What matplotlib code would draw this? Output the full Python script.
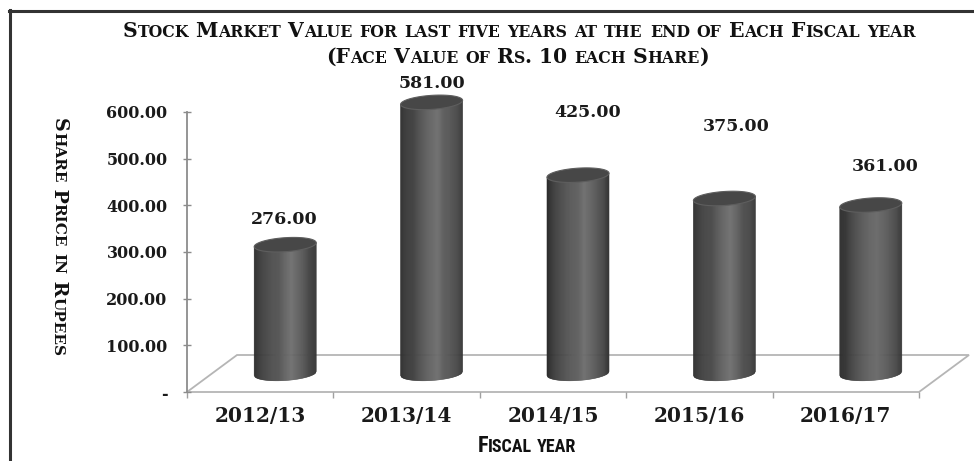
import matplotlib
matplotlib.use('Agg')
import matplotlib.pyplot as plt
import numpy as np
from matplotlib import font_manager
from matplotlib.font_manager import FontProperties
from matplotlib.collections import PolyCollection
from matplotlib.patches import Polygon
from matplotlib.lines import Line2D
from matplotlib.transforms import IdentityTransform

years = ['2012/13', '2013/14', '2014/15', '2015/16', '2016/17']
share_price = [276.00, 581.00, 425.00, 375.00, 361.00]
y_ticks = [0, 100, 200, 300, 400, 500, 600]
y_tick_labels = ['-', '100.00', '200.00', '300.00', '400.00', '500.00', '600.00']
title_lines = ['Stock Market Value for last five years at the end of Each Fiscal year',
               '(Face Value of Rs. 10 each Share)']
x_title = 'Fiscal year'
y_title = 'Share Price in Rupees'

# label nudges in pixels (dx, dy) from the top of each cylinder
label_nudge = [(-1, 25), (0, 19), (10, 63), (12, 72), (14, 39)]

available = {f.name for f in font_manager.fontManager.ttflist}


def pick(*names):
    for n in names:
        if n in available:
            return n
    return 'DejaVu Sans'


SERIF = pick('DejaVu Serif', 'Liberation Serif')
NARROW = pick('Liberation Sans Narrow', 'Roboto Condensed', 'Liberation Sans', 'DejaVu Sans')

W, H = 974, 461
fig = plt.figure(figsize=(W / 100, H / 100), dpi=100)
fig.patch.set_facecolor('white')

# plot area in pixels (front face of the 3d box)
px0, px1, py0, py1 = 187, 919, 392, 112
ax = fig.add_axes([px0 / W, (H - py0) / H, (px1 - px0) / W, (py0 - py1) / H])
ax.set_xlim(0, len(years))
ax.set_ylim(0, 600)
ax.patch.set_alpha(0)

xpx = (px1 - px0) / len(years)     # pixels per category
ypx = (py0 - py1) / 600.0          # pixels per rupee
depth_x = 50 / xpx
depth_y = 37 / ypx

# floor
floor = Polygon([(0, 0), (len(years), 0), (len(years) + depth_x, depth_y), (depth_x, depth_y)],
                closed=True, facecolor='white', edgecolor='#b5b5b5', lw=1.3,
                clip_on=False, zorder=1)
ax.add_patch(floor)

# cylinders
bw = 62 / xpx
ry = 7 / ypx
shear = (4 / ypx) / bw
n = 60
grad_pos = [-1.0, -0.75, 0.2, 0.85, 1.0]
grad_val = [0.17, 0.24, 0.43, 0.27, 0.21]
for i, v in enumerate(share_price):
    cx = i + 0.5 + depth_x / 2
    base = depth_y / 2
    top = v + depth_y / 2
    xs = np.linspace(cx - bw / 2, cx + bw / 2, n + 1)
    t = (xs - cx) / (bw / 2)
    half = ry * np.sqrt(np.clip(1 - t ** 2, 0, 1))
    tilt = shear * (xs - cx)
    bottom = base - half + tilt
    polys = []
    for k in range(n):
        polys.append([(xs[k], top + tilt[k]), (xs[k + 1], top + tilt[k + 1]),
                      (xs[k + 1], bottom[k + 1]), (xs[k], bottom[k])])
    mid = (t[:-1] + t[1:]) / 2
    g = np.interp(mid, grad_pos, grad_val)
    cols = [(c, c, c) for c in g]
    pc = PolyCollection(polys, facecolors=cols, edgecolors=cols, linewidths=0.4,
                        clip_on=False, zorder=3)
    ax.add_collection(pc)
    th = np.linspace(0, 2 * np.pi, 80)
    ex = cx + bw / 2 * np.cos(th)
    ey = top + ry * np.sin(th) + shear * (ex - cx)
    ax.add_patch(Polygon(np.column_stack([ex, ey]), closed=True, facecolor='#474747',
                         edgecolor='#5e5e5e', lw=0.8, clip_on=False, zorder=4))
    ax.annotate(f'{v:.2f}', xy=(cx, top), xytext=label_nudge[i], textcoords='offset pixels',
                ha='center', va='center', fontsize=12.5, fontweight='bold',
                family=SERIF, color='#1a1a1a', annotation_clip=False, zorder=5)

# axes styling
for s in ['top', 'right', 'bottom']:
    ax.spines[s].set_visible(False)
ax.spines['left'].set_color('#8c8c8c')
ax.spines['left'].set_linewidth(1.3)
ax.set_yticks(y_ticks)
ax.set_yticklabels(y_tick_labels)
ax.tick_params(axis='y', direction='inout', length=6, width=1, color='#8c8c8c', pad=11,
               labelsize=11.5)
for lab in ax.get_yticklabels():
    lab.set_fontfamily(SERIF)
    lab.set_fontweight('bold')
    lab.set_color('#1a1a1a')

ax.set_xticks(range(len(years) + 1))
ax.set_xticklabels([])
ax.set_xticks(np.arange(len(years)) + 0.5, minor=True)
ax.set_xticklabels(years, minor=True)
ax.tick_params(axis='x', which='major', direction='out', length=4.5, width=1, color='#a0a0a0')
ax.tick_params(axis='x', which='minor', length=0, pad=10, labelsize=14.5)
for lab in ax.get_xticklabels(minor=True):
    lab.set_fontfamily(SERIF)
    lab.set_fontweight('bold')
    lab.set_color('#1a1a1a')

renderer = fig.canvas.get_renderer()


def run_width(s, size, family):
    fp = FontProperties(family=family, weight='bold', size=size)
    w1 = renderer.get_text_width_height_descent(s + 'I', fp, ismath=False)[0]
    w0 = renderer.get_text_width_height_descent('I', fp, ismath=False)[0]
    return w1 - w0


def small_caps(x, y, text, big, small, family, rotation=0, color='#111111'):
    # x, y: centre of the baseline in pixels (origin bottom left)
    runs = []
    for ch in text:
        sz = small if ch.islower() else big
        if runs and runs[-1][1] == sz:
            runs[-1][0] += ch.upper()
        else:
            runs.append([ch.upper(), sz])
    widths = [run_width(r, sz, family) for r, sz in runs]
    total = sum(widths)
    ang = np.deg2rad(rotation)
    d = np.array([np.cos(ang), np.sin(ang)])
    pos = np.array([x, y]) - d * total / 2
    for (r, sz), w in zip(runs, widths):
        fig.text(pos[0], pos[1], r, fontsize=sz, fontweight='bold', family=family,
                 rotation=rotation, rotation_mode='anchor', ha='left', va='baseline',
                 color=color, transform=IdentityTransform())
        pos = pos + d * w


small_caps(519, H - 37, title_lines[0], 14.6, 11.3, SERIF)
small_caps(518, H - 63, title_lines[1], 14.6, 11.3, SERIF)
small_caps(54, H - 237, y_title, 13.7, 11, SERIF, rotation=-90)
small_caps(527, H - 452, x_title, 16, 13, NARROW)

# chart frame (only top and left edges are inside the crop)
fig.add_artist(Line2D([8.5, W], [H - 10.5, H - 10.5], color='#333333', lw=2.2,
                      transform=IdentityTransform()))
fig.add_artist(Line2D([9.8, 9.8], [H - 9.5, 0], color='#333333', lw=2.2,
                      transform=IdentityTransform()))

fig.savefig('out.png', dpi=100)
